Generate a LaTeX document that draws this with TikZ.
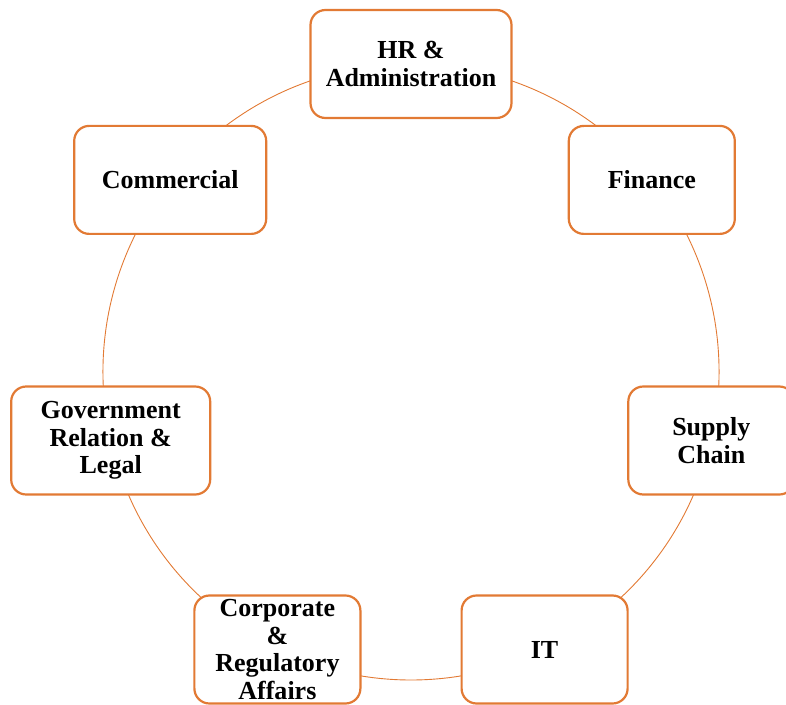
\documentclass[tikz,border=0pt]{standalone}
\usepackage{fontspec}
\setmainfont{Liberation Serif}
\usepackage{xcolor}
\usepackage{tikz}
\usetikzlibrary{backgrounds}
\definecolor{deptorange}{RGB}{226,122,52}

\begin{document}
\begin{tikzpicture}[x=1pt, y=1pt]
        % Define styles
        \tikzset{
            dept/.style={rectangle, rounded corners=15pt, draw=deptorange, line width=2.2pt, fill=white, minimum width=166pt, minimum height=108pt, inner sep=2pt, align=center, font=\fontsize{26}{27.5}\selectfont\bfseries},
            link/.style={draw=deptorange, line width=0.9pt, bend left=25.7, looseness=0.9}
        }

        \useasboundingbox (-411,-332) rectangle (375,372);

        % Nodes
        \node[dept, minimum width=201pt] (hr_node) at (0,308) {HR \&\\Administration};
        \node[dept] (finance_node) at (240.8,192.1) {Finance};
        \node[dept] (supply_node) at (300.3,-68.5) {Supply\\Chain};
        \node[dept] (it_node) at (133.6,-277.5) {IT};
        \node[dept] (corporate_node) at (-133.6,-277.5) {Corporate\\\&\\Regulatory\\Affairs};
        \node[dept, minimum width=199pt] (government_node) at (-300.3,-68.5) {Government\\Relation \&\\Legal};
        \node[dept, minimum width=192pt] (commercial_node) at (-240.8,192.1) {Commercial};

        % Links
        \begin{scope}[on background layer]
            \draw[link] (hr_node.center) to (finance_node.center);
            \draw[link] (finance_node.center) to (supply_node.center);
            \draw[link] (supply_node.center) to (it_node.center);
            \draw[link] (it_node.center) to (corporate_node.center);
            \draw[link] (corporate_node.center) to (government_node.center);
            \draw[link] (government_node.center) to (commercial_node.center);
            \draw[link] (commercial_node.center) to (hr_node.center);
        \end{scope}
\end{tikzpicture}
\end{document}
